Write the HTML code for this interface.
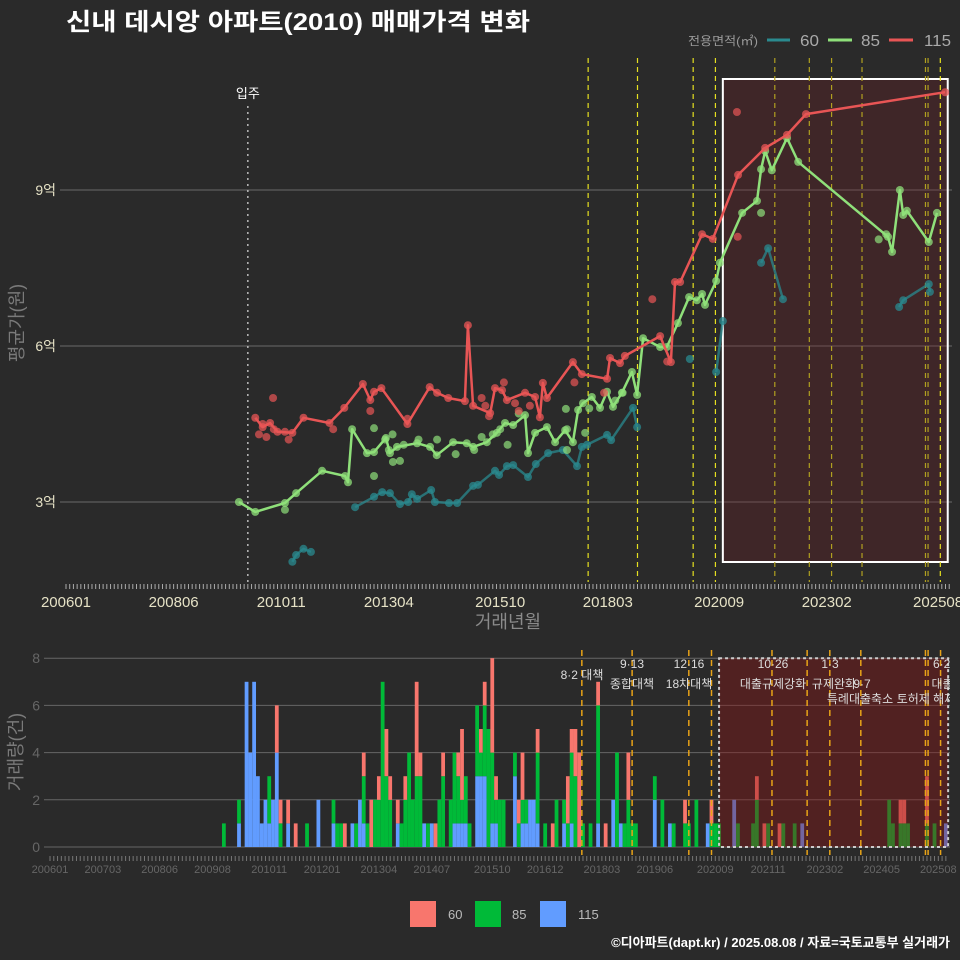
<!DOCTYPE html>
<html><head><meta charset="utf-8">
<style>
html,body{margin:0;padding:0;background:#2a2a2a;}
svg{display:block;font-family:"Liberation Sans","Noto Sans CJK KR",sans-serif;}
</style></head>
<body>
<svg id="chart" width="960" height="960" viewBox="0 0 960 960" xmlns="http://www.w3.org/2000/svg">
<defs>
<clipPath id="topClip"><rect x="60" y="45" width="892" height="540"/></clipPath>
<clipPath id="botClip"><rect x="38" y="650" width="912" height="205"/></clipPath>
</defs>
<rect x="0" y="0" width="960" height="960" fill="#2a2a2a"/>
<text x="66" y="30" fill="#ffffff" font-size="24" font-weight="bold" textLength="464" lengthAdjust="spacingAndGlyphs">신내 데시앙 아파트(2010) 매매가격 변화</text>
<g>
<text x="688" y="45" fill="#9a9a9a" font-size="12" textLength="70" lengthAdjust="spacingAndGlyphs">전용면적(㎡)</text>
<line x1="767" y1="40" x2="790" y2="40" stroke="#2a8a8f" stroke-width="3"/>
<text x="800" y="46" fill="#aaaaaa" font-size="16" textLength="19" lengthAdjust="spacingAndGlyphs">60</text>
<line x1="828" y1="40" x2="852" y2="40" stroke="#8fe07a" stroke-width="3"/>
<text x="861" y="46" fill="#aaaaaa" font-size="16" textLength="19" lengthAdjust="spacingAndGlyphs">85</text>
<line x1="889" y1="40" x2="913" y2="40" stroke="#e85555" stroke-width="3"/>
<text x="924" y="46" fill="#aaaaaa" font-size="16" textLength="27" lengthAdjust="spacingAndGlyphs">115</text>
</g>
<g id="topPanel"></g>
<g id="botPanel"></g>
<g>
<rect x="410" y="901" width="26" height="26" fill="#f8766d"/>
<text x="448" y="919" fill="#bbbbbb" font-size="13">60</text>
<rect x="475" y="901" width="26" height="26" fill="#00ba38"/>
<text x="512" y="919" fill="#bbbbbb" font-size="13">85</text>
<rect x="540" y="901" width="26" height="26" fill="#619cff"/>
<text x="578" y="919" fill="#bbbbbb" font-size="13">115</text>
</g>
<text x="950" y="947" text-anchor="end" fill="#ffffff" font-size="13" font-weight="bold">©디아파트(dapt.kr) / 2025.08.08 / 자료=국토교통부 실거래가</text>
</svg>
<script>
// months since 2006-01
const xTickMonths = [0,29,58,87,117,146,176,205,235];
const xTickLabels = ["200601","200806","201011","201304","201510","201803","202009","202302","202508"];
const yTickValues = [3,6,9];
const yTickLabels = ["3억","6억","9억"];
const bxTickMonths = [0,14,29,43,58,72,87,101,117,131,146,160,176,190,205,220,235];
const bxTickLabels = ["200601","200703","200806","200908","201011","201201","201304","201407","201510","201612","201803","201906","202009","202111","202302","202405","202508"];
const byTickValues = [0,2,4,6,8];
const moveInMonth = 49;
const eventMonths = [140.7,154,169,175,191,200.3,206.3,214.5,231.6,232.3,235.6];
const regionStart = 177, regionEnd = 237.6;

const p115T = [51,53,55,57,61,64,71,75,80,82,83,85,92,98,100,103,107.5,108.3,109.7,114.3,115.6,117.5,118.8,123.7,126.4,127.7,128.5,129.6,136.6,139,145.8,146.6,149.3,150.6,160.1,163,164.1,165.5,171.4,174.3,181.1,188.4,194.3,199.4,236.9];
const p115V = [4.62,4.44,4.52,4.35,4.33,4.62,4.52,4.81,5.27,4.96,5.12,5.19,4.50,5.21,5.10,5.00,4.94,6.40,4.85,4.71,5.19,5.15,4.96,5.10,5.02,4.63,5.29,5.00,5.69,5.46,5.37,5.77,5.67,5.81,6.19,5.69,7.23,7.23,8.15,8.06,9.29,9.81,10.06,10.46,10.88];
const s115T = [52,53,54,56,55.8,59,60,72,82,92,112,113,114,118,121,122,125,137,145,158,162,180.8,181];
const s115V = [4.3,4.5,4.25,4.4,5.0,4.35,4.2,4.4,4.75,4.6,5.0,4.85,4.65,5.3,4.9,4.75,4.85,5.3,5.1,6.9,5.7,10.5,8.1];

const p85T = [46.6,51,59,62,69,75.2,76,77.1,81.1,83,86.2,87.3,89.2,94.6,98.1,99.9,104.3,108,109.7,113.4,116.1,118.3,120.5,123.7,124.5,126.4,129.6,131.8,134.5,136.6,138,139.3,141.7,143.9,145.8,147.4,149.8,152.5,153.9,155.5,160.1,161.9,164.9,167.9,170,171.4,172.2,175.2,176.2,182.2,186.2,187.3,188.4,190.2,194.3,197.3,221.5,222.6,224.7,225.6,226.6,232.5,234.7];
const p85V = [3.0,2.81,2.98,3.17,3.60,3.50,3.38,4.40,3.94,3.96,4.23,3.94,4.06,4.13,4.06,3.90,4.15,4.13,4.06,4.15,4.33,4.52,4.48,4.67,3.94,4.33,4.44,4.15,4.38,4.15,4.77,4.90,5.02,4.81,5.12,4.83,5.10,5.50,5.06,6.15,5.98,5.98,6.44,6.94,6.88,7.0,6.79,7.25,7.60,8.56,8.79,9.40,9.75,9.38,10.0,9.54,8.10,7.81,9.0,8.52,8.60,8.0,8.56];
const s85T = [59,83,83,88.1,90,86,87,88,91,95,100,105,110,112,115,117,119,122,134.7,139.9,187.3,135,135,141,148,150,219,221];
const s85V = [2.85,4.42,3.5,3.77,3.79,4.2,4.0,4.3,4.1,4.2,4.2,3.92,4.0,4.25,4.3,4.4,4.1,4.7,4.79,4.33,8.56,4.0,4.4,4.8,4.95,5.1,8.05,8.15];

const p60T = [61,62,64,66,77.9,83,85.2,87.3,90,92.2,93.2,94.6,98.4,99.4,103.2,105.4,109.7,111,115.6,116.7,118.8,120.5,124.5,126.6,129.9,133.9,137.7,139,140.4,145.8,146.9,152.8,153.9,168.1,175.2,177,187.3,189.2,193.2,224.5,225.6,232.5,232.8];
const p60V = [1.85,1.98,2.10,2.04,2.90,3.10,3.19,3.17,2.96,3.0,3.15,3.06,3.23,3.0,2.98,2.98,3.31,3.33,3.60,3.52,3.69,3.71,3.48,3.73,3.94,4.0,3.69,4.06,4.10,4.29,4.19,4.81,4.44,5.75,5.50,6.48,7.60,7.88,6.90,6.75,6.88,7.19,7.04];

// bar data: month, count of 60, 85, 115
const barMonths = [46,50,52,53,54,55,56,57,58,59,60,61,63,65,68,71,75,76,77,78,80,81,82,83,84,85,86,87,88,89,90,92,93,94,95,96,97,98,99,100,101,102,103,104,106,107,108,109,110,111,113,114,115,116,117,118,119,120,123,124,125,126,127,128,129,131,133,134,136,137,138,139,140,141,143,145,147,149,150,151,152,153,154,155,160,162,164,165,168,169,171,174,175,176,177,181,182,186,187,189,190,193,194,197,199,222,223,225,226,227,232,234,237];
const bar60 = [0,0,0,0,0,0,0,0,0,0,2,1,1,1,0,0,0,0,0,1,0,0,0,1,0,2,0,1,0,2,1,1,0,1,0,0,4,1,0,0,0,1,0,1,0,0,1,3,0,0,0,1,1,0,4,1,0,0,0,1,2,0,0,0,1,0,1,0,0,2,1,2,4,0,0,1,1,0,0,0,0,2,0,0,0,0,0,0,1,0,0,0,1,0,0,0,0,0,1,1,0,1,0,0,0,0,0,1,1,0,2,0,0];
const bar85 = [1,1,0,0,0,0,0,0,2,0,0,1,0,0,1,0,1,1,1,0,0,1,0,2,1,0,2,2,7,3,2,0,1,2,4,2,3,3,0,1,0,0,2,3,2,3,2,1,2,1,3,1,3,5,3,1,2,2,1,1,1,1,0,0,3,1,0,2,1,1,3,3,0,1,1,5,0,0,4,0,1,2,1,1,1,2,0,1,1,1,2,0,1,1,1,0,1,1,2,0,1,0,1,1,0,2,1,1,1,1,1,1,0];
const bar115 = [0,1,7,4,7,3,1,2,1,2,4,0,1,0,0,2,1,0,0,0,1,0,2,1,0,0,0,0,0,0,0,1,0,0,0,0,0,0,1,0,1,0,0,0,0,1,1,1,1,0,3,3,3,0,1,1,0,0,3,0,1,1,2,2,1,0,0,0,1,0,1,0,0,0,0,1,0,2,0,1,0,0,0,0,2,0,1,0,0,0,0,1,0,0,0,2,0,0,0,0,0,0,0,0,1,0,0,0,0,0,0,0,1];

const NS = "http://www.w3.org/2000/svg";
function mk(tag, attrs, parent){
  const el = document.createElementNS(NS, tag);
  for (const k in attrs) el.setAttribute(k, attrs[k]);
  parent.appendChild(el);
  return el;
}
const xT = m => 66 + m * 3.711;
const yT = v => 190 + (9 - v) * 52;
const xB = m => 50 + m * 3.78;
const yB = c => 847 - c * 23.6;

const topG = document.getElementById('topPanel');
const botG = document.getElementById('botPanel');

// ---- TOP PANEL ----
yTickValues.forEach((v,i)=>{
  const g = mk('line',{x1:60,x2:952,y1:yT(v),y2:yT(v),stroke:'#6a6a6a','stroke-width':1},topG);
  
  
  const t = mk('text',{x:56,y:yT(v)+5,'text-anchor':'end',fill:'#e6e2c6','font-size':14},topG);
  t.textContent = yTickLabels[i];
  
  
});
const ytitle = mk('text',{x:0,y:0,transform:'translate(23,323) rotate(-90)','text-anchor':'middle',fill:'#7a7a7a','font-size':18},topG);
ytitle.textContent = '평균가(원)';



const topPlot = mk('g',{'clip-path':'url(#topClip)'},topG);



const hl = mk('rect',{x:xT(regionStart),y:79,width:xT(regionEnd)-xT(regionStart),height:483,fill:'rgba(120,30,35,0.28)',stroke:'#ffffff','stroke-width':2},topPlot);



eventMonths.forEach(m=>{
  const l = mk('line',{x1:xT(m),x2:xT(m),y1:58,y2:582,stroke:(m>regionStart&&m<234?'#b0a020':'#e6e020'),'stroke-width':1.2,'stroke-dasharray':'5,4'},topPlot);
  
  
});
const mi = mk('line',{x1:xT(moveInMonth),x2:xT(moveInMonth),y1:106,y2:582,stroke:'#bbbbbb','stroke-width':1.5,'stroke-dasharray':'2,4'},topPlot);


const mil = mk('text',{x:xT(moveInMonth),y:98,'text-anchor':'middle',fill:'#ffffff','font-size':13},topG);
mil.textContent = '입주';



function drawSeries(T,V,color,name,breakGap){
  let segs=[[]];
  for(let i=0;i<T.length;i++){
    if(i>0 && breakGap && T[i]-T[i-1]>breakGap) segs.push([]);
    segs[segs.length-1].push(xT(T[i]).toFixed(1)+','+yT(V[i]).toFixed(1));
  }
  segs.forEach(s=>{
    if(s.length<2) return;
    const p = mk('polyline',{points:s.join(' '),fill:'none',stroke:color,'stroke-width':2.5,'stroke-linejoin':'round',opacity:(name==='60'?0.75:1)},topPlot);
    
    
  });
  for(let i=0;i<T.length;i++){
    const c = mk('circle',{cx:xT(T[i]),cy:yT(V[i]),r:4,fill:color,opacity:0.75},topPlot);
    
    
  }
}
function drawScatter(T,V,color,name){
  for(let i=0;i<T.length;i++){
    const c = mk('circle',{cx:xT(T[i]),cy:yT(V[i]),r:4,fill:color,opacity:0.7},topPlot);
    
    
  }
}
drawSeries(p60T,p60V,'#2a8a8f','60',7);
drawScatter(s85T,s85V,'#8fe07a','85');
drawSeries(p85T,p85V,'#8fe07a','85',0);
drawScatter(s115T,s115V,'#e85555','115');
drawSeries(p115T,p115V,'#e85555','115',0);

for(let m=0;m<=238;m++){
  const tk = mk('line',{x1:xT(m),x2:xT(m),y1:584,y2:589,stroke:'#aaaaaa','stroke-width':1},topG);
  
  
}
xTickMonths.forEach((m,i)=>{
  const t = mk('text',{x:xT(m),y:607,'text-anchor':'middle',fill:'#e6e2c6','font-size':15},topG);
  t.textContent = xTickLabels[i];
  
  
});
const xtitle = mk('text',{x:508,y:628,'text-anchor':'middle',fill:'#8a8a8a','font-size':18},topG);
xtitle.textContent='거래년월';



// ---- BOTTOM PANEL ----
byTickValues.forEach(v=>{
  const g = mk('line',{x1:44,x2:950,y1:yB(v),y2:yB(v),stroke:'#666666','stroke-width':1},botG);
  
  
  const t = mk('text',{x:40,y:yB(v)+5,'text-anchor':'end',fill:'#666666','font-size':14},botG);
  t.textContent = String(v);
  
  
});
const bytitle = mk('text',{x:0,y:0,transform:'translate(22,752) rotate(-90)','text-anchor':'middle',fill:'#7a7a7a','font-size':18},botG);
bytitle.textContent='거래량(건)';



const botPlot = mk('g',{'clip-path':'url(#botClip)'},botG);


const bw = 3.78;
for(let i=0;i<barMonths.length;i++){
  const x0 = xB(barMonths[i]) - bw/2;
  let base = 0;
  [[bar115[i],'#619cff','115'],[bar85[i],'#00ba38','85'],[bar60[i],'#f8766d','60']].forEach(([c,col,nm])=>{
    if(!c) return;
    const r = mk('rect',{x:x0,y:yB(base+c),width:bw,height:yB(base)-yB(base+c),fill:col},botPlot);
    
    
    base += c;
  });
}
const bhl = mk('rect',{x:xB(regionStart),y:yB(8),width:xB(regionEnd)-xB(regionStart),height:yB(0)-yB(8),fill:'rgba(140,20,20,0.4)',stroke:'#cccccc','stroke-width':2,'stroke-dasharray':'3,3'},botPlot);


eventMonths.forEach(m=>{
  const l = mk('line',{x1:xB(m),x2:xB(m),y1:650,y2:857,stroke:'#e8a317','stroke-width':1.5,'stroke-dasharray':'6,4'},botPlot);
  
  
});
const notes = [
  [582,679,'8·2 대책'],[632,668,'9·13'],[632,688,'종합대책'],[689,668,'12·16'],[689,688,'18차대책'],
  [773,668,'10·26'],[773,688,'대출규제강화'],[830,668,'1·3'],[834,688,'규제완화'],[862,688,'9·7'],
  [860,703,'특례대출축소'],[926,703,'토허제 해제'],[945,668,'6·27'],[948,688,'대출규']
];
notes.forEach(n=>{
  const t = mk('text',{x:n[0],y:n[1],'text-anchor':'middle',fill:'#dddddd','font-size':12},botPlot);
  t.textContent = n[2];
  
  
});
for(let m=0;m<=237;m++){
  const tk = mk('line',{x1:xB(m),x2:xB(m),y1:856,y2:861,stroke:'#777777','stroke-width':1},botG);
  
  
}
bxTickMonths.forEach((m,i)=>{
  const t = mk('text',{x:xB(m),y:873,'text-anchor':'middle',fill:'#666666','font-size':11},botG);
  t.textContent = bxTickLabels[i];
  
  
});
</script>
</body></html>
